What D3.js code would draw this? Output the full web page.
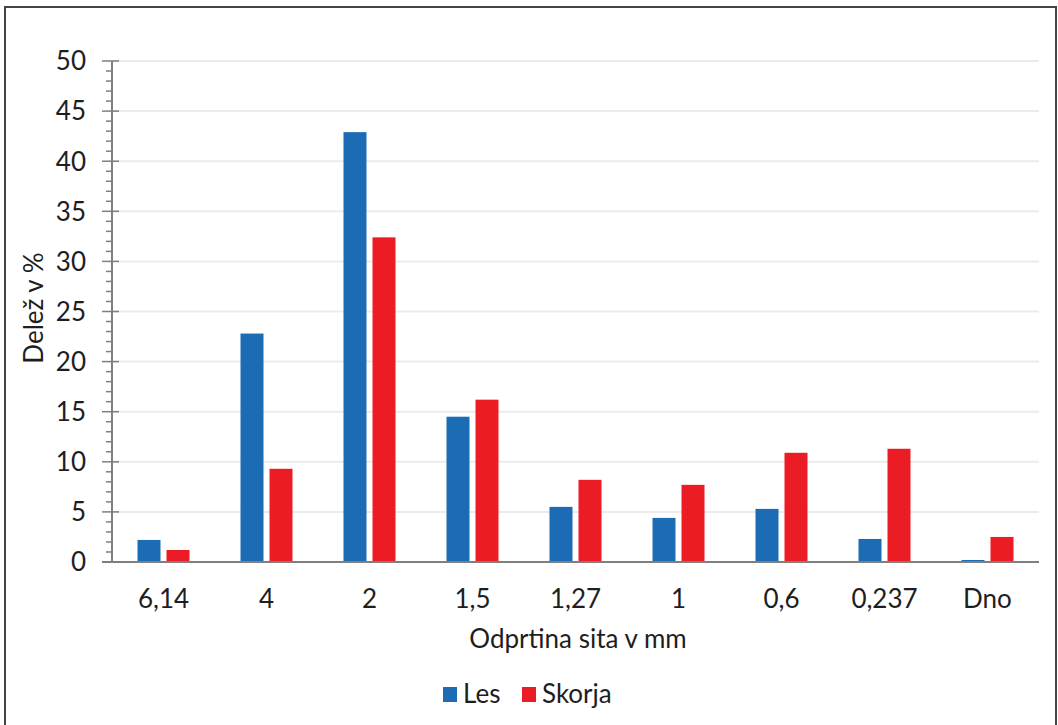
<!DOCTYPE html>
<html><head><meta charset="utf-8">
<script src="https://cdn.jsdelivr.net/npm/d3@7"></script>
<style>body{margin:0;background:#fff;}svg{display:block;}</style>
</head><body>
<svg id="c" width="1058" height="725"></svg>
<script>
const categories = ["6,14","4","2","1,5","1,27","1","0,6","0,237","Dno"];
const seriesNames = ["Les","Skorja"];
const les = [2.2, 22.8, 42.9, 14.5, 5.5, 4.4, 5.3, 2.3, 0.2];
const skorja = [1.2, 9.3, 32.4, 16.2, 8.2, 7.7, 10.9, 11.3, 2.5];
const yTicks = [0,5,10,15,20,25,30,35,40,45,50];
const colors = ["#1b6cb5","#ec1c24"];

const svg = d3.select("#c");
const font = "Lato, 'Open Sans', sans-serif";
const fs = 26;
const txt = "#1e1e1e";
const m = {left:112, right:1039, top:61, bottom:562};

// frame
svg.append("path").attr("d","M5,740 L5,7 L1056,7 L1056,740")
  .attr("fill","none").attr("stroke","#444").attr("stroke-width",2);

const x = d3.scaleBand().domain(categories).range([m.left,m.right]);
const y = d3.scaleLinear().domain([0,50]).range([m.bottom,m.top]);

// gridlines
svg.append("g").selectAll("line").data(yTicks.filter(d=>d>0)).join("line")
  .attr("x1",m.left).attr("x2",m.right)
  .attr("y1",d=>y(d)).attr("y2",d=>y(d))
  .attr("stroke","#ebebeb").attr("stroke-width",2);

// bars
const bw = 23, gap = 6;
const data = [les, skorja];
data.forEach((vals,si)=>{
  svg.append("g").selectAll("rect").data(vals).join("rect")
    .attr("x",(d,i)=>x(categories[i]) + x.bandwidth()/2 - (bw + gap/2) + si*(bw+gap))
    .attr("y",d=>y(d)).attr("width",bw)
    .attr("height",d=>y(0)-y(d))
    .attr("fill",colors[si]);
});

// y axis with minor ticks
const minor = d3.range(0,51,1);
svg.append("g").selectAll("line").data(minor).join("line")
  .attr("x1",d=> d%5===0 ? 102 : 106).attr("x2",d=> d%5===0 ? 119 : m.left)
  .attr("y1",d=>y(d)).attr("y2",d=>y(d))
  .attr("stroke","#7f7f7f").attr("stroke-width",1.5);
svg.append("line").attr("x1",m.left).attr("x2",m.left).attr("y1",y(50)).attr("y2",y(0))
  .attr("stroke","#7f7f7f").attr("stroke-width",2);
svg.append("line").attr("x1",102).attr("x2",m.right).attr("y1",y(0)).attr("y2",y(0))
  .attr("stroke","#7f7f7f").attr("stroke-width",2);

svg.append("g").selectAll("text").data(yTicks).join("text")
  .attr("x",86).attr("y",d=>y(d)).attr("dy","0.36em")
  .attr("text-anchor","end").attr("font-family",font).attr("font-size",fs)
  .attr("fill",txt).text(d=>d);

svg.append("g").selectAll("text").data(categories).join("text")
  .attr("x",d=>x(d)+x.bandwidth()/2).attr("y",608)
  .attr("text-anchor","middle").attr("font-family",font).attr("font-size",fs)
  .attr("fill",txt).text(d=>d);

svg.append("text").attr("x",578).attr("y",648).attr("text-anchor","middle")
  .attr("font-family",font).attr("font-size",fs).attr("fill",txt).text("Odprtina sita v mm");

svg.append("text").attr("transform","translate(43,308) rotate(-90)").attr("text-anchor","middle")
  .attr("font-family",font).attr("font-size",fs).attr("fill",txt).text("Delež v %");

// legend
const legX = [443, 522];
seriesNames.forEach((n,i)=>{
  svg.append("rect").attr("x",legX[i]).attr("y",687).attr("width",14).attr("height",15).attr("fill",colors[i]);
  svg.append("text").attr("x",legX[i]+20).attr("y",703).attr("font-family",font).attr("font-size",fs)
    .attr("fill",txt).text(n);
});
</script>
</body></html>
